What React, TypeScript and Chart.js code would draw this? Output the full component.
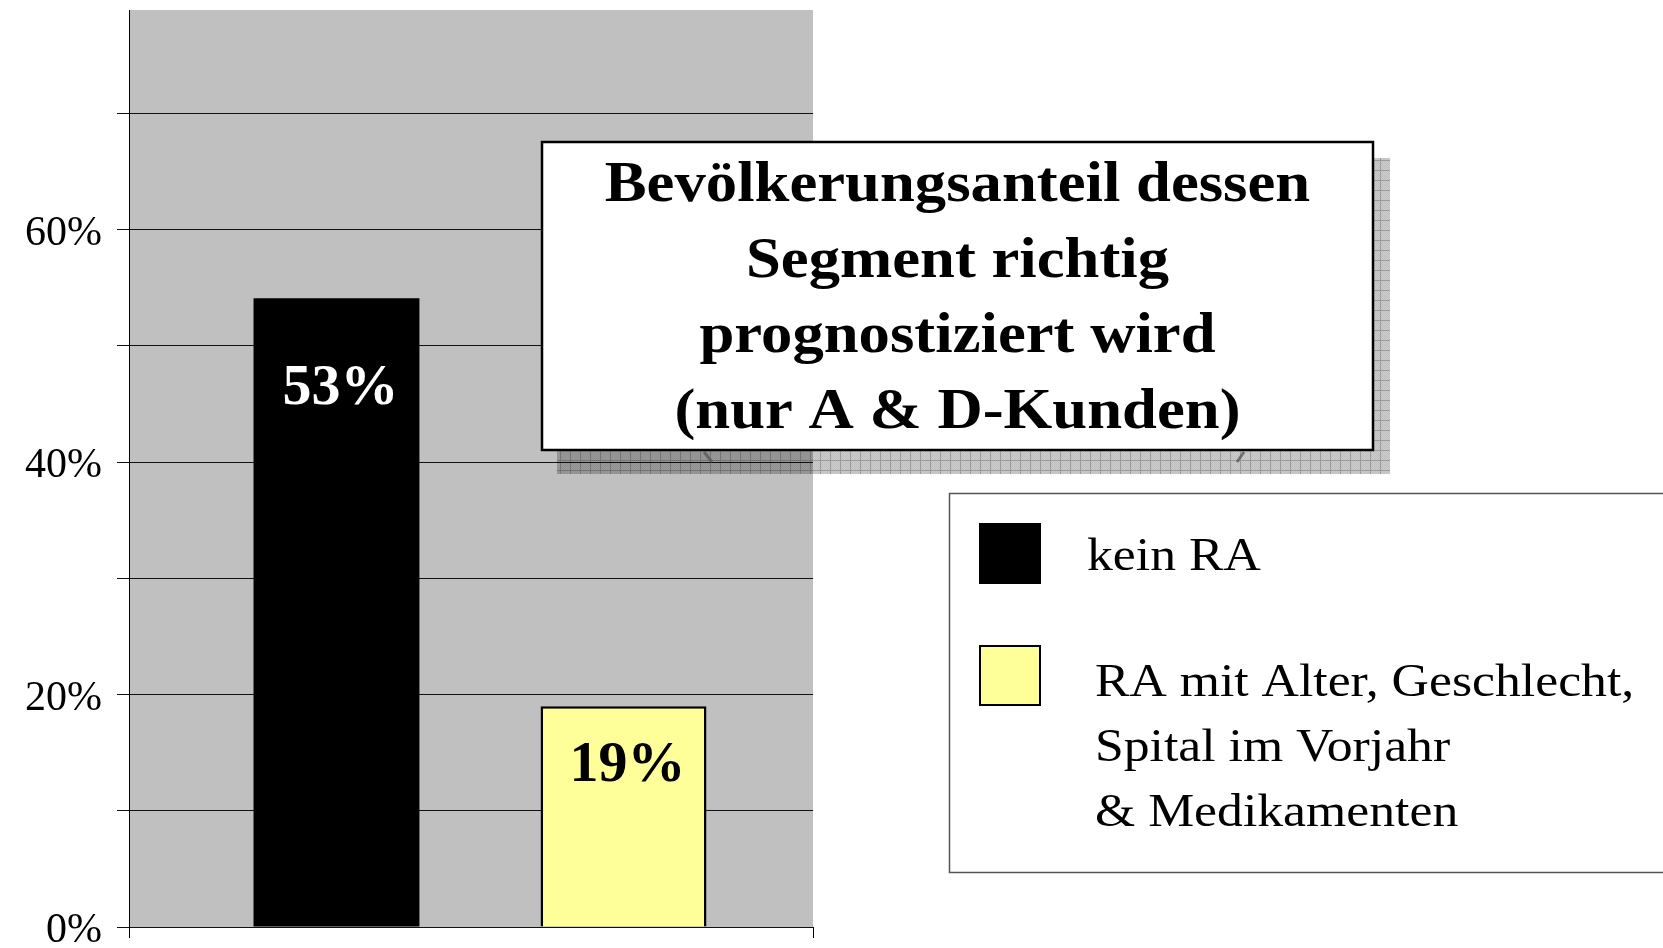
import React, { useEffect, useRef } from "react";
import { Chart, registerables } from "chart.js";

Chart.register(...registerables);

// ---------- data ----------
const categories = [""];
const seriesNames = ["kein RA", "RA mit Alter, Geschlecht, Spital im Vorjahr & Medikamenten"];
const seriesValues = [54.1, 19.0];
const valueLabels = ["53%", "19%"];
const legendLines = [["kein RA"], ["RA mit Alter, Geschlecht,", "Spital im Vorjahr", "& Medikamenten"]];
const yTickValues = [0, 10, 20, 30, 40, 50, 60, 70];
const yLabelledTicks = [0, 20, 40, 60];
const titleLines = [
  "Bevölkerungsanteil dessen",
  "Segment richtig",
  "prognostiziert wird",
  "(nur A & D-Kunden)",
];

// ---------- style ----------
const W = 1663;
const H = 948;
const SERIF = '"Liberation Serif", "Times New Roman", serif';
const BAR_COLORS = ["#000000", "#FFFF99"];
const LABEL_COLORS = ["#FFFFFF", "#000000"];
const LABEL_DROP = [106, 75];
const PLOT_BG = "#C0C0C0";
const AXIS_SHIFT = 18; // axis line sits this far left of the chart area

function stretchedText(ctx: any, text: string, x: number, y: number, sx: number) {
  ctx.save();
  ctx.translate(x, y);
  ctx.scale(sx, 1);
  ctx.fillText(text, 0, 0);
  ctx.restore();
}

const decorPlugin = {
  id: "decor",
  beforeDraw(chart: any) {
    const { ctx, chartArea } = chart;
    ctx.save();
    ctx.fillStyle = PLOT_BG;
    ctx.fillRect(
      chartArea.left - AXIS_SHIFT,
      chartArea.top,
      chartArea.right - chartArea.left + AXIS_SHIFT,
      chartArea.bottom - chartArea.top
    );
    ctx.restore();
  },
  afterDatasetsDraw(chart: any) {
    const { ctx, chartArea } = chart;
    ctx.save();
    // axis line
    const ax = chartArea.left - AXIS_SHIFT + 0.5;
    ctx.strokeStyle = "#000";
    ctx.lineWidth = 1;
    ctx.beginPath();
    ctx.moveTo(ax, chartArea.top);
    ctx.lineTo(ax, chartArea.bottom + 11);
    ctx.moveTo(chartArea.right + 0.5, chartArea.bottom);
    ctx.lineTo(chartArea.right + 0.5, chartArea.bottom + 11);
    ctx.stroke();

    // value labels
    ctx.font = `bold 58px ${SERIF}`;
    ctx.textAlign = "center";
    ctx.textBaseline = "alphabetic";
    chart.data.datasets.forEach((ds: any, i: number) => {
      const meta = chart.getDatasetMeta(i);
      const el = meta.data[0];
      if (!el) return;
      ctx.fillStyle = LABEL_COLORS[i];
      ctx.fillText(valueLabels[i], el.x + 4, el.y + LABEL_DROP[i]);
    });
    ctx.restore();
  },
  afterDraw(chart: any) {
    const { ctx } = chart;
    ctx.save();
    // ----- title box shadow -----
    const bx = 542, by = 142, bw = 831, bh = 308;
    const sx = 557, sy = 158;
    const pc = document.createElement("canvas");
    pc.width = 10;
    pc.height = 10;
    const p = pc.getContext("2d")!;
    p.fillStyle = "rgba(0,0,0,0.2)";
    p.fillRect(0, 0, 10, 10);
    for (let yy = 0; yy < 10; yy++) {
      for (let xx = yy % 2; xx < 10; xx += 2) {
        p.fillStyle = "rgba(0,0,0,0.06)";
        p.fillRect(xx, yy, 1, 1);
      }
    }
    p.fillStyle = "rgba(0,0,0,0.22)";
    p.fillRect(0, 0, 10, 1);
    p.fillRect(0, 1, 1, 9);
    const pat = ctx.createPattern(pc, "repeat");
    ctx.fillStyle = pat;
    ctx.fillRect(sx, sy, bw + 2, bh + 8);
    // callout marks
    ctx.strokeStyle = "rgba(90,90,90,0.8)";
    ctx.lineWidth = 3;
    ctx.beginPath();
    ctx.moveTo(704, 452);
    ctx.lineTo(712, 462);
    ctx.moveTo(1244, 452);
    ctx.lineTo(1237, 462);
    ctx.stroke();
    // white box
    ctx.fillStyle = "#FFFFFF";
    ctx.fillRect(bx, by, bw, bh);
    ctx.strokeStyle = "#000";
    ctx.lineWidth = 2.5;
    ctx.strokeRect(bx, by, bw, bh);
    // title text
    ctx.fillStyle = "#000";
    ctx.font = `bold 57px ${SERIF}`;
    ctx.textAlign = "center";
    ctx.textBaseline = "alphabetic";
    titleLines.forEach((t, i) => {
      stretchedText(ctx, t, bx + bw / 2, 201 + i * 75.7, 1.1);
    });

    // ----- legend -----
    ctx.strokeStyle = "#555";
    ctx.lineWidth = 1.5;
    ctx.strokeRect(949.5, 493.5, 800, 379);
    const swY = [523, 645];
    BAR_COLORS.forEach((c, i) => {
      ctx.fillStyle = c;
      ctx.fillRect(979, swY[i], 62, 61);
      ctx.strokeStyle = "#000";
      ctx.lineWidth = 2;
      ctx.strokeRect(980, swY[i] + 1, 60, 59);
    });
    ctx.fillStyle = "#000";
    ctx.font = `47px ${SERIF}`;
    ctx.textAlign = "left";
    const textX = [1087, 1095];
    const textY = [570, 696];
    legendLines.forEach((lines, i) => {
      lines.forEach((l, j) => {
        stretchedText(ctx, l, textX[i], textY[i] + j * 65, 1.1);
      });
    });
    ctx.restore();
  },
};

export default function App() {
  const ref = useRef<HTMLCanvasElement | null>(null);
  useEffect(() => {
    if (!ref.current) return;
    const chart = new Chart(ref.current, {
      type: "bar",
      data: {
        labels: categories,
        datasets: seriesNames.map((name, i) => ({
          label: name,
          data: [seriesValues[i]],
          backgroundColor: BAR_COLORS[i],
          borderColor: "#000",
          borderWidth: i === 0 ? 0 : 2.5,
          categoryPercentage: 0.862,
          barPercentage: 0.578,
        })),
      },
      options: {
        responsive: false,
        animation: false,
        devicePixelRatio: 1,
        layout: { padding: { left: 0, top: 10, right: W - 813, bottom: 0 } },
        plugins: {
          legend: { display: false },
          tooltip: { enabled: false },
          title: { display: false },
        },
        scales: {
          x: {
            display: true,
            grid: { display: false },
            border: { display: false },
            ticks: { display: false },
            afterFit: (s: any) => {
              s.height = 21;
              s.paddingLeft = 0;
              s.paddingRight = 0;
            },
          },
          y: {
            min: 0,
            max: 78.9,
            afterFit: (s: any) => {
              s.width = 147;
              s.paddingTop = 0;
              s.paddingBottom = 0;
            },
            afterBuildTicks: (s: any) => {
              s.ticks = yTickValues.map((v) => ({ value: v }));
            },
            border: { display: false },
            grid: {
              color: "#111",
              lineWidth: 1,
              drawTicks: true,
              tickLength: 30,
            },
            ticks: {
              padding: 15,
              color: "#000",
              labelOffset: 4,
              font: { family: SERIF, size: 42 },
              callback: (v: any) => (yLabelledTicks.includes(Number(v)) ? `${v}%` : ""),
            },
          },
        },
      },
      plugins: [decorPlugin],
    });
    return () => chart.destroy();
  }, []);
  return (
    <div style={{ position: "fixed", left: 0, top: 0, width: W, height: H, background: "#fff" }}>
      <canvas ref={ref} width={W} height={H} style={{ display: "block" }} />
    </div>
  );
}
